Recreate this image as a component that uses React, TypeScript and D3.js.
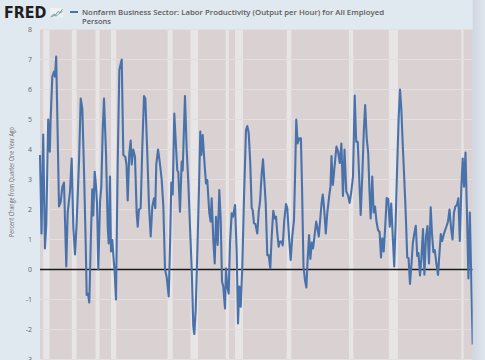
import React from 'react';
import * as d3 from 'd3';

const dates = [
  1948.25, 1948.51, 1948.8, 1949.09, 1949.32, 1949.65, 1949.92, 1950.06, 1950.35, 1950.64, 1950.81, 1951.01,
  1951.49, 1951.78, 1952.05, 1952.34, 1952.73, 1952.97, 1953.36, 1953.65, 1953.93, 1954.22, 1954.51, 1954.9,
  1955.19, 1955.46, 1955.75, 1956.04, 1956.21, 1956.43, 1956.65, 1956.94, 1957.16, 1957.33, 1957.57, 1957.79,
  1957.97, 1958.19, 1958.48, 1958.7, 1958.94, 1959.16, 1959.5, 1959.79, 1959.96, 1960.18, 1960.35, 1960.57,
  1960.74, 1960.98, 1961.2, 1961.49, 1961.77, 1962.18, 1962.45, 1962.79, 1962.99, 1963.2, 1963.47, 1963.71,
  1963.88, 1964.15, 1964.44, 1964.73, 1964.9, 1965.12, 1965.41, 1965.69, 1965.98, 1966.2, 1966.54, 1966.83,
  1967.12, 1967.39, 1967.68, 1967.9, 1968.07, 1968.36, 1968.65, 1968.99, 1969.27, 1969.56, 1969.84, 1970.19,
  1970.46, 1970.63, 1970.87, 1971.14, 1971.43, 1971.65, 1971.82, 1972.11, 1972.4, 1972.57, 1972.96, 1973.25,
  1973.53, 1973.82, 1974.11, 1974.38, 1974.55, 1974.79, 1975.06, 1975.35, 1975.57, 1975.74, 1975.98, 1976.25,
  1976.54, 1976.76, 1977.11, 1977.34, 1977.51, 1977.79, 1978.03, 1978.25, 1978.54, 1978.81, 1979.05, 1979.27,
  1979.49, 1979.78, 1979.95, 1980.17, 1980.41, 1980.63, 1980.92, 1981.15, 1981.49, 1981.78, 1982.0, 1982.22,
  1982.46, 1982.73, 1983.02, 1983.36, 1983.58, 1983.82, 1984.09, 1984.33, 1984.5, 1984.72, 1984.95, 1985.29,
  1985.53, 1985.75, 1986.04, 1986.26, 1986.48, 1986.72, 1986.99, 1987.23, 1987.5, 1987.74, 1988.01, 1988.25,
  1988.47, 1988.7, 1988.93, 1989.16, 1989.45, 1989.62, 1989.89, 1990.18, 1990.4, 1990.69, 1990.98, 1991.25,
  1991.54, 1991.71, 1991.93, 1992.16, 1992.43, 1992.72, 1992.91, 1993.16, 1993.41, 1993.65, 1993.86, 1994.11,
  1994.33, 1994.57, 1994.79, 1995.03, 1995.32, 1995.56, 1995.77, 1996.0, 1996.24, 1996.45, 1996.69, 1996.96,
  1997.21, 1997.54, 1997.76, 1997.93, 1998.17, 1998.44, 1998.78, 1999.04, 1999.35, 1999.62, 1999.89, 2000.15,
  2000.45, 2000.74, 2001.02, 2001.31, 2001.6, 2001.89, 2002.14, 2002.41, 2002.67, 2002.91, 2003.18, 2003.44,
  2003.67, 2003.93, 2004.19, 2004.41, 2004.61, 2004.88, 2005.11, 2005.35, 2005.6, 2005.86, 2006.13, 2006.37,
  2006.59, 2006.83, 2007.08, 2007.34, 2007.6, 2007.87, 2008.11, 2008.35, 2008.62, 2008.87, 2009.15, 2009.37,
  2009.61, 2009.83, 2010.07, 2010.32, 2010.6, 2010.84, 2011.07, 2011.31, 2011.57, 2011.81, 2012.05, 2012.3,
  2012.54, 2012.76, 2013.02, 2013.27, 2013.53, 2013.77, 2014.04, 2014.3, 2014.55, 2014.84, 2015.06, 2015.3,
  2015.54, 2015.81, 2016.09, 2016.32, 2016.56, 2016.8, 2017.04, 2017.28, 2017.55, 2017.79, 2018.05, 2018.3,
  2018.56, 2018.81, 2019.05, 2019.31, 2019.55, 2019.8, 2020.06, 2020.3, 2020.52, 2020.77, 2021.01, 2021.27,
  2021.51, 2021.74, 2022.0,
];

const values = [
  3.82, 1.2, 4.5, 0.7, 1.5, 5.0, 3.93, 5.0, 6.43, 6.6, 6.43, 7.1,
  2.1, 2.25, 2.75, 2.9, 0.1, 1.9, 2.6, 3.7, 1.4, 0.5, 1.6, 3.6,
  5.7, 5.37, 3.3, 0.87, -0.85, -0.8, -1.1, 1.2, 2.67, 1.8, 3.26, 2.8,
  2.2, 0.0, 2.26, 2.76, 4.64, 5.7, 3.87, 1.43, 0.87, 3.1, 0.6, 0.98,
  0.5, -0.1, -1.0, 3.5, 6.65, 7.0, 3.82, 3.75, 3.5, 2.3, 3.87, 4.3,
  3.5, 4.0, 3.75, 1.87, 1.43, 2.0, 2.04, 4.1, 5.78, 5.7, 3.87, 2.1,
  1.1, 2.1, 2.37, 2.04, 3.5, 4.0, 3.6, 3.0, 2.1, 0.0, -0.25, -0.9,
  1.2, 2.9, 2.5, 5.2, 4.1, 3.3, 3.25, 1.93, 3.6, 3.3, 5.78, 4.0,
  2.9, 1.4, 0.0, -1.9, -2.15, -1.35, 0.54, 2.76, 4.6, 3.82, 4.48, 3.65,
  2.87, 2.98, 1.87, 1.6, 2.37, 0.98, 0.2, 1.76, 0.82, 2.65, 1.65, -0.4,
  -0.57, -1.3, 0.04, -0.57, -0.8, 0.87, 1.87, 1.76, 2.15, 0.54, -1.8, -0.57,
  -1.24, 0.1, 2.4, 4.65, 4.78, 4.55, 3.54, 2.04, 1.98, 1.54, 1.52, 1.2,
  1.93, 2.26, 3.2, 3.67, 2.98, 2.2, 0.48, 0.48, 0.04, 1.1, 1.96, 1.7,
  1.76, 1.2, 0.76, 0.93, 0.93, 0.8, 1.65, 2.18, 2.04, 1.1, 0.32, 1.1,
  1.65, 3.0, 5.0, 4.2, 4.37, 4.37, 2.76, 0.1, -0.35, -0.6, 0.3, 1.15,
  0.35, 0.9, 0.7, 1.1, 1.6, 1.35, 1.1, 1.65, 2.2, 2.5, 2.0, 1.2,
  1.87, 2.45, 2.76, 3.78, 2.82, 3.4, 4.1, 3.95, 3.55, 4.2, 2.45, 4.0,
  2.6, 2.48, 2.22, 2.6, 3.1, 5.8, 4.26, 4.26, 3.0, 1.82, 3.1, 4.6,
  5.48, 4.4, 3.87, 2.6, 1.7, 3.1, 1.9, 2.1, 1.6, 1.32, 1.25, 0.4,
  1.04, 0.6, 1.4, 2.38, 2.35, 1.43, 2.2, 1.2, 0.1, 1.6, 3.6, 5.0,
  6.0, 5.37, 4.2, 3.1, 1.8, 0.4, 0.38, -0.48, 0.2, 0.9, 1.2, 1.46,
  0.45, 0.55, -0.2, 0.4, 1.35, -0.17, 1.1, 1.45, 0.2, 2.07, 1.2, 0.58,
  0.65, 0.2, -0.18, 0.5, 1.18, 0.95, 1.15, 1.3, 1.45, 1.6, 2.0, 1.4,
  1.0, 1.9, 2.1, 2.15, 2.37, 0.95, 2.7, 3.7, 2.76, 3.9, 2.0, -0.3,
  1.9, -0.2, -2.5,
];

const recessionStarts = [1948.8, 1953.68, 1957.72, 1960.35, 1970.0, 1973.9, 1979.9, 1981.49, 1990.3, 2000.9, 2007.7, 2020.05];
const recessionEnds = [1949.88, 1954.5, 1958.42, 1961.25, 1970.87, 1975.2, 1980.45, 1982.85, 1991.1, 2001.65, 2009.25, 2020.45];

const yTicks = [-3, -2, -1, 0, 1, 2, 3, 4, 5, 6, 7, 8];

const seriesTitle1 = 'Nonfarm Business Sector: Labor Productivity (Output per Hour) for All Employed';
const seriesTitle2 = 'Persons';
const yTitle = 'Percent Change from Quarter One Year Ago';
const logoText = 'FRED';

export default function App() {
  const W = 485;
  const H = 360;
  const left = 40;
  const right = 472.7;
  const top = 29.5;
  const bottom = 359.5;
  const x = d3.scaleLinear().domain([1948.25, 2022.0]).range([left, right]);
  const y = d3.scaleLinear().domain([-3, 8]).range([bottom, top]);
  const data = dates.map((d, i) => ({ d, v: values[i] }));
  const line = d3
    .line<{ d: number; v: number }>()
    .x((p) => x(p.d))
    .y((p) => y(p.v));
  const font = "'Open Sans', 'DejaVu Sans', sans-serif";

  return (
    <svg
      width={W}
      height={H}
      style={{ position: 'absolute', left: 0, top: 0, display: 'block' }}
    >
      <defs>
        <linearGradient id="edge" x1="0" x2="1" y1="0" y2="0">
          <stop offset="0" stopColor="#cfd6df" />
          <stop offset="1" stopColor="#dfe6ee" />
        </linearGradient>
      </defs>
      <rect width={W} height={H} fill="#e1e9f0" />
      <rect x={left} y={top} width={right - left} height={H - top} fill="#d9d1d2" />
      {recessionStarts.map((s, i) => (
        <rect
          key={'r' + i}
          x={x(s)}
          y={top}
          width={x(recessionEnds[i]) - x(s)}
          height={H - top}
          fill="#e7e5e5"
        />
      ))}
      {yTicks.map((t) => (
        <line
          key={'g' + t}
          x1={left}
          x2={right}
          y1={y(t)}
          y2={y(t)}
          stroke="#e4dfdf"
          strokeWidth={1}
        />
      ))}
      <line x1={left} x2={right} y1={y(0)} y2={y(0)} stroke="#1a1a1a" strokeWidth={1.5} />
      <path
        d={line(data) || ''}
        fill="none"
        stroke="#4a72aa"
        strokeWidth={2.1}
        strokeLinejoin="round"
      />
      <rect x={right} y={0} width={W - right} height={H} fill="url(#edge)" />
      {yTicks.map((t) => (
        <text
          key={'t' + t}
          x={32}
          y={y(t)}
          dy="0.35em"
          textAnchor="end"
          fontSize={7}
          fill="#666"
          fontFamily={font}
        >
          {t}
        </text>
      ))}
      <text
        transform={`translate(13.5, 182) rotate(-90)`}
        textAnchor="middle"
        fontSize={7.3}
        fill="#6a6a6a"
        fontFamily={font}
        textLength={110}
        lengthAdjust="spacingAndGlyphs"
      >
        {yTitle}
      </text>
      <text
        x={4}
        y={17.5}
        fontSize={15.5}
        fontWeight={900}
        fill="#1f1f1f"
        fontFamily="'DejaVu Sans', 'Liberation Sans', sans-serif"
        textLength={42.5}
        lengthAdjust="spacingAndGlyphs"
      >
        {logoText}
      </text>
      <g>
        <rect x={50} y={8} width={13} height={9.5} fill="#eef2f5" />
        <polyline points="51,16.5 53.5,14 55.5,15 58,11.5 60,12.5 62.5,9" fill="none" stroke="#6aa06a" strokeWidth={0.9} />
        <polyline points="51,17 54,15.5 56.5,16 59,13.5 62.5,11.5" fill="none" stroke="#5b8fc8" strokeWidth={0.9} />
      </g>
      <line x1={70} x2={78} y1={12} y2={12} stroke="#4a72aa" strokeWidth={2} />
      <text
        x={82}
        y={14.5}
        fontSize={7.2}
        fontWeight={600}
        fill="#5a5a5a"
        fontFamily={font}
        textLength={302}
        lengthAdjust="spacingAndGlyphs"
      >
        {seriesTitle1}
      </text>
      <text
        x={82}
        y={24.3}
        fontSize={7.2}
        fontWeight={600}
        fill="#5a5a5a"
        fontFamily={font}
        textLength={29}
        lengthAdjust="spacingAndGlyphs"
      >
        {seriesTitle2}
      </text>
    </svg>
  );
}
